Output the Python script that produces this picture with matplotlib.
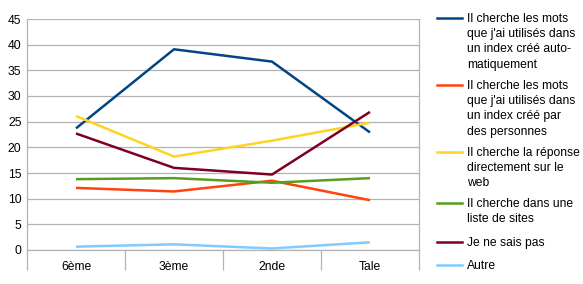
import matplotlib.pyplot as plt
from matplotlib.lines import Line2D
import numpy as np

plt.rcParams["font.family"] = ["Liberation Sans", "DejaVu Sans"]

categories = ["6ème", "3ème", "2nde", "Tale"]

series_labels = [
    "Il cherche les mots\nque j'ai utilisés dans\nun index créé auto-\nmatiquement",
    "Il cherche les mots\nque j'ai utilisés dans\nun index créé par\ndes personnes",
    "Il cherche la réponse\ndirectement sur le\nweb",
    "Il cherche dans une\nliste de sites",
    "Je ne sais pas",
    "Autre",
]
auto_index = [23.7, 39.1, 36.7, 22.9]
human_index = [12.1, 11.4, 13.5, 9.7]
direct_web = [26.1, 18.2, 21.3, 24.8]
site_list = [13.8, 14.0, 13.1, 14.0]
dont_know = [22.7, 16.0, 14.7, 26.9]
other = [0.65, 1.1, 0.3, 1.5]

series_values = [auto_index, human_index, direct_web, site_list, dont_know, other]
colors = ["#004586", "#ff420e", "#ffd320", "#579d1c", "#7e0021", "#83caff"]

GRID = "#b3b3b3"
FS = 8.7

fig = plt.figure(figsize=(5.83, 2.84), dpi=100)
ax = fig.add_axes([27 / 583, 1 - 250 / 284, 392 / 583, 231 / 284])

x = np.arange(1, len(categories) + 1)
for vals, col in zip(series_values, colors):
    ax.plot(x, vals, color=col, linewidth=1.8, solid_capstyle="butt", zorder=3)

ax.set_xlim(0.5, len(categories) + 0.5)
ax.set_ylim(0, 45)
ax.set_yticks(np.arange(0, 46, 5))
ax.yaxis.grid(True, color=GRID, linewidth=0.9)
ax.tick_params(axis="y", length=0, pad=4, labelsize=FS, colors="#000000")

# boundaries as long ticks, category names as minor labels
ax.set_xticks(np.arange(0.5, len(categories) + 1, 1.0))
ax.set_xticklabels([])
ax.set_xticks(x, minor=True)
ax.set_xticklabels(categories, minor=True)
ax.tick_params(axis="x", which="major", length=14.4, width=0.9, color=GRID)
ax.tick_params(axis="x", which="minor", length=0, pad=8, labelsize=FS)

ax.spines["top"].set_visible(False)
for side in ["left", "right", "bottom"]:
    ax.spines[side].set_color(GRID)
    ax.spines[side].set_linewidth(0.9)

# legend drawn by hand, handle aligned with first line of each label
y_tops = [18, 85, 152, 203, 242, 265]
for lab, col, yt in zip(series_labels, colors, y_tops):
    fy = 1 - yt / 284
    fig.add_artist(Line2D([437 / 583, 462 / 583], [fy, fy], color=col,
                          linewidth=1.8, transform=fig.transFigure))
    fig.text(467 / 583, fy + 5 / 284, lab, fontsize=FS, va="top", ha="left",
             linespacing=1.36)

fig.savefig("out.png", dpi=100)
